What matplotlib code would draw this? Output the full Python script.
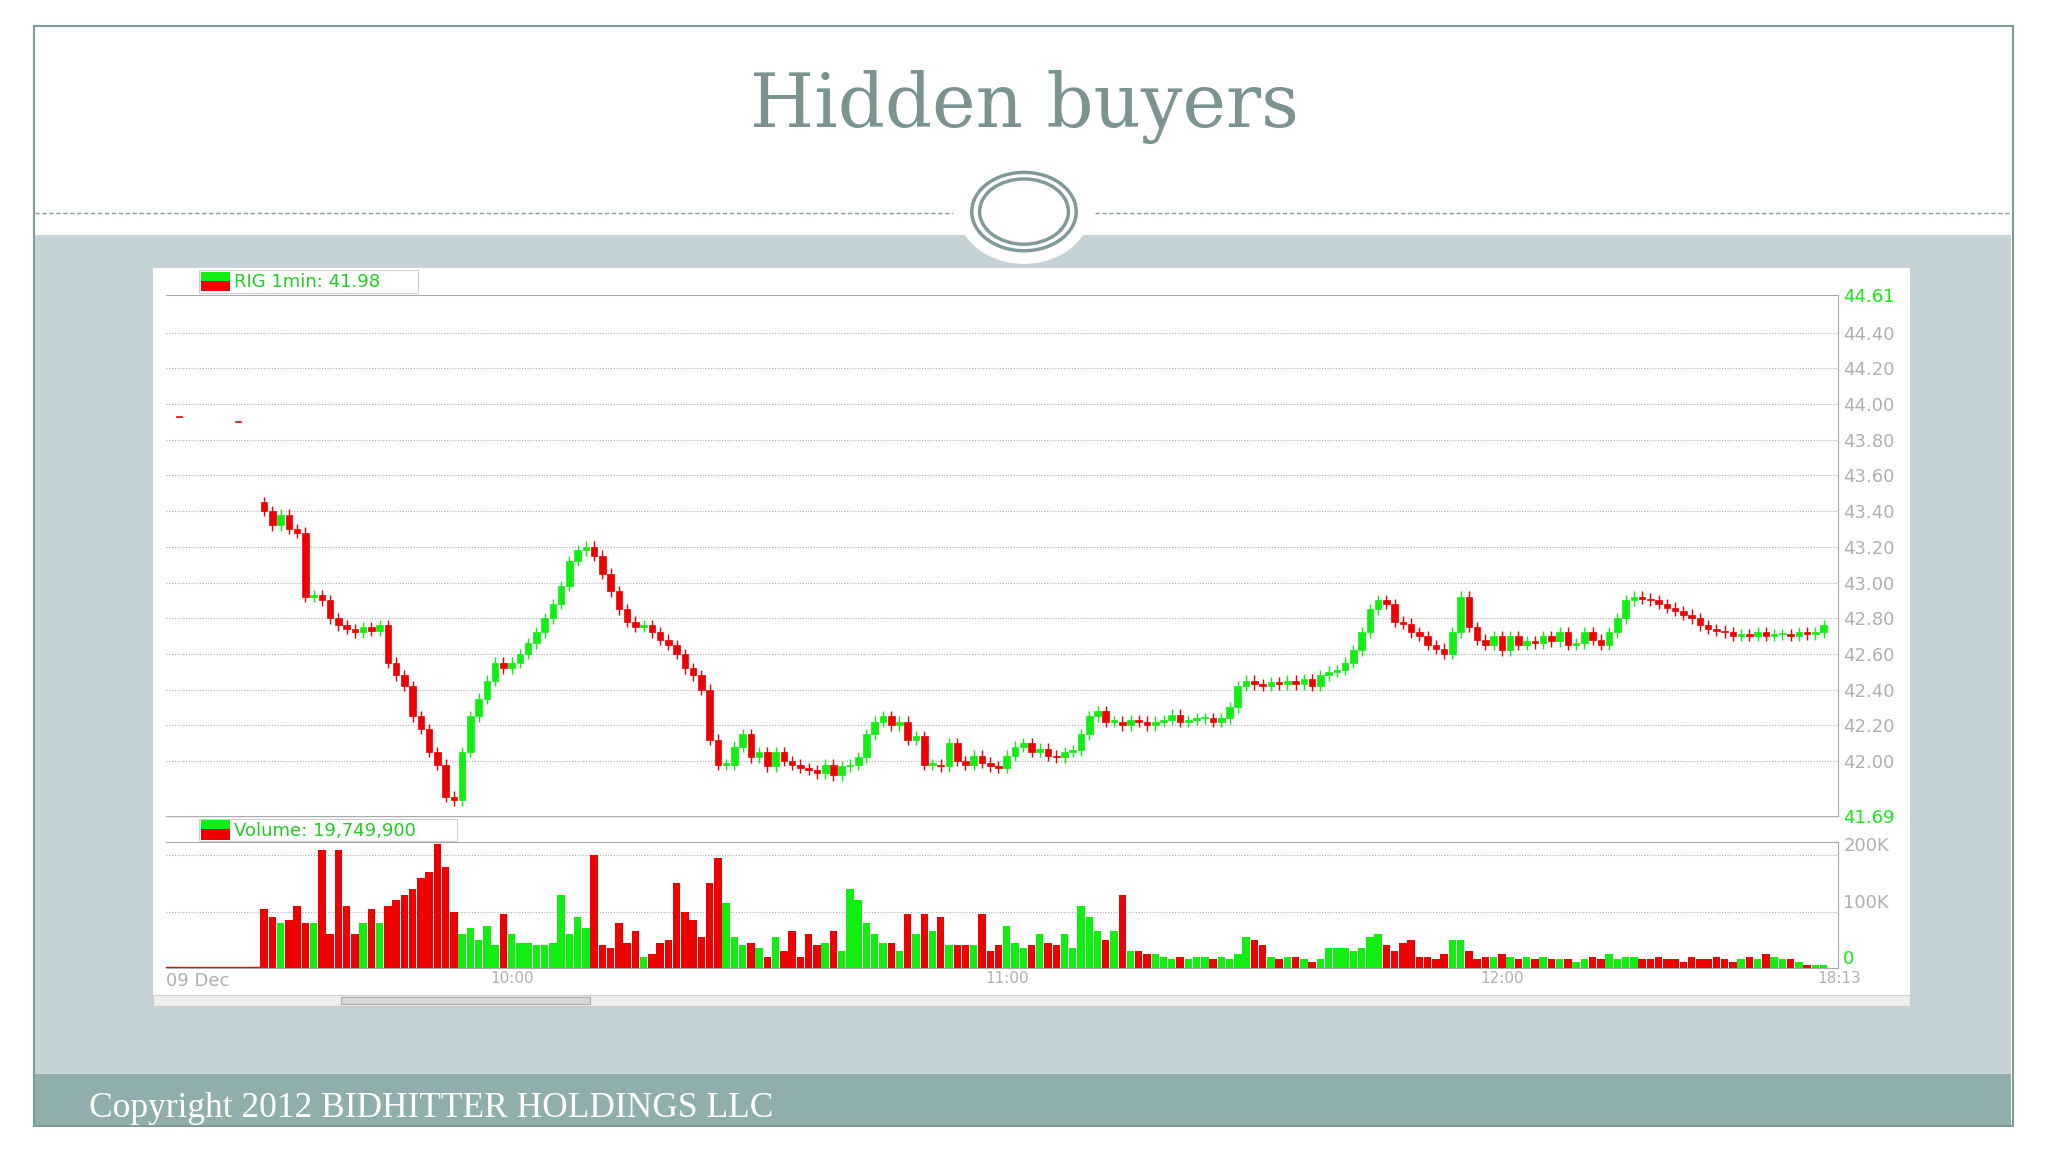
import numpy as np
import matplotlib.pyplot as plt
from matplotlib.patches import Rectangle, Ellipse
from matplotlib.lines import Line2D

# per-minute closes from 09:30
closes = [
    43.40, 43.32, 43.38, 43.30, 43.28, 42.92, 42.93, 42.90, 42.80, 42.76,
    42.74, 42.72, 42.75, 42.73, 42.76, 42.55, 42.48, 42.42, 42.25, 42.18,
    42.05, 41.98, 41.80, 41.78, 42.05, 42.25, 42.35, 42.45, 42.55, 42.52,
    42.55, 42.60, 42.66, 42.72, 42.80, 42.88, 42.98, 43.12, 43.18, 43.20,
    43.15, 43.05, 42.95, 42.85, 42.78, 42.75, 42.76, 42.72, 42.68, 42.65,
    42.60, 42.52, 42.48, 42.40, 42.12, 41.98, 41.98, 42.08, 42.15, 42.02,
    42.05, 41.97, 42.05, 42.00, 41.98, 41.96, 41.95, 41.93, 41.98, 41.92,
    41.97, 41.98, 42.02, 42.15, 42.22, 42.25, 42.20, 42.22, 42.12, 42.14,
    41.98, 41.98, 41.97, 42.10, 42.00, 41.98, 42.03, 41.99, 41.97, 41.96,
    42.03, 42.08, 42.10, 42.05, 42.07, 42.03, 42.02, 42.05, 42.06, 42.15,
    42.25, 42.28, 42.22, 42.22, 42.20, 42.23, 42.22, 42.20, 42.22, 42.23,
    42.26, 42.22, 42.23, 42.24, 42.24, 42.22, 42.24, 42.30, 42.42, 42.45,
    42.43, 42.42, 42.44, 42.43, 42.45, 42.43, 42.46, 42.42, 42.48, 42.50,
    42.51, 42.55, 42.62, 42.72, 42.85, 42.90, 42.88, 42.78, 42.77, 42.72,
    42.70, 42.65, 42.63, 42.60, 42.72, 42.92, 42.75, 42.68, 42.65, 42.70,
    42.62, 42.70, 42.65, 42.67, 42.66, 42.70, 42.67, 42.72, 42.65, 42.66,
    42.72, 42.68, 42.65, 42.72, 42.80, 42.90, 42.92, 42.91, 42.90, 42.88,
    42.86, 42.84, 42.82, 42.80, 42.76, 42.74, 42.73, 42.72, 42.70, 42.71,
    42.70, 42.72, 42.70, 42.71, 42.71, 42.70, 42.72, 42.71, 42.72, 42.76,
]
first_open = 43.45

# volume in thousands
volumes = [
    105, 90, 80, 85, 110, 80, 80, 210, 60, 210,
    110, 60, 80, 105, 80, 110, 120, 130, 140, 160,
    170, 220, 180, 100, 60, 70, 50, 75, 40, 95,
    60, 45, 45, 40, 40, 45, 130, 60, 90, 70,
    200, 40, 35, 80, 45, 65, 20, 25, 45, 50,
    150, 100, 85, 55, 150, 195, 115, 55, 40, 45,
    35, 20, 55, 30, 65, 20, 60, 40, 45, 65,
    30, 140, 120, 80, 60, 45, 45, 30, 95, 60,
    95, 65, 90, 40, 40, 40, 40, 95, 30, 40,
    75, 45, 35, 40, 60, 45, 40, 60, 35, 110,
    90, 65, 50, 65, 130, 30, 30, 25, 25, 20,
    15, 20, 15, 20, 20, 15, 20, 15, 25, 55,
    50, 40, 20, 15, 20, 20, 15, 10, 15, 35,
    35, 35, 30, 35, 55, 60, 40, 30, 45, 50,
    20, 20, 15, 25, 50, 50, 30, 15, 20, 20,
    25, 20, 15, 20, 15, 20, 15, 15, 15, 10,
    15, 20, 15, 25, 15, 20, 20, 15, 15, 20,
    15, 15, 10, 20, 15, 15, 20, 15, 10, 15,
    20, 15, 25, 20, 15, 15, 10, 5, 5, 5,
]

price_ticks = [44.61, 44.40, 44.20, 44.00, 43.80, 43.60, 43.40, 43.20, 43.00,
               42.80, 42.60, 42.40, 42.20, 42.00, 41.69]
time_ticks = [30, 90, 150]
time_labels = ['10:00', '11:00', '12:00']

W, H = 1568.0, 882.0
def fx(x): return x / W
def fy(y): return 1 - y / H
def box(x0, y0, x1, y1): return [fx(x0), fy(y1), (x1 - x0) / W, (y1 - y0) / H]

GREEN = '#11ee11'
RED = '#ee0000'
fig = plt.figure(figsize=(20.48, 11.52), dpi=100)
fig.patch.set_facecolor('white')

def frect(x0, y0, x1, y1, **kw):
    fig.add_artist(Rectangle((fx(x0), fy(y1)), (x1 - x0) / W, (y1 - y0) / H,
                             transform=fig.transFigure, **kw))

# slide background
frect(26, 20, 1541, 862, facecolor='white', edgecolor='#7f9a98', lw=1.5)
frect(27, 180, 1540, 822, facecolor='#c5d2d6', edgecolor='none')
frect(27, 822, 1540, 861, facecolor='#90aeab', edgecolor='none')
fig.add_artist(Line2D([fx(27), fx(730)], [fy(163)] * 2, transform=fig.transFigure,
                      color='#7f9a98', ls=(0, (3, 2)), lw=1))
fig.add_artist(Line2D([fx(838), fx(1540)], [fy(163)] * 2, transform=fig.transFigure,
                      color='#7f9a98', ls=(0, (3, 2)), lw=1))
fig.add_artist(Ellipse((fx(784), fy(163)), 100 / W, 78 / H, transform=fig.transFigure,
                       facecolor='white', edgecolor='none'))
fig.add_artist(Ellipse((fx(784), fy(162)), 80 / W, 60 / H, transform=fig.transFigure,
                       facecolor='white', edgecolor='#7f9a98', lw=2.5))
fig.add_artist(Ellipse((fx(784), fy(162)), 68 / W, 50 / H, transform=fig.transFigure,
                       facecolor='none', edgecolor='#7f9a98', lw=2.5))
fig.text(0.5, fy(82), 'Hidden buyers', ha='center', va='center',
         family='DejaVu Serif', fontsize=53, color='#7b9391')
fig.text(fx(68), fy(849), 'Copyright 2012 BIDHITTER HOLDINGS LLC', ha='left', va='center',
         family='Liberation Serif', fontsize=25.5, color='white')

# chart panel
frect(117, 205, 1462, 770, facecolor='white', edgecolor='none')
frect(117, 762, 1462, 770, facecolor='#eeeeee', edgecolor='#cccccc', lw=0.8)
frect(261, 763, 452, 769, facecolor='#d8d8d8', edgecolor='#aaaaaa', lw=0.8)

n = len(closes)
opens = [first_open] + closes[:-1]
mins = np.arange(n)
xlim = (-11.9, 190.7)

ax = fig.add_axes(box(127, 226, 1407, 625))
ax.set_zorder(5)
ax.set_facecolor('white')
for m, o, c in zip(mins, opens, closes):
    col = GREEN if c >= o else RED
    lo, hi = min(o, c), max(o, c)
    ax.vlines(m, lo - 0.03, hi + 0.03, color=col, lw=1)
    ax.add_patch(Rectangle((m - 0.4, lo), 0.8, max(hi - lo, 0.008), facecolor=col, edgecolor=col, lw=0.5))
ax.plot([-10.5, -9.9], [43.93, 43.93], color=RED, lw=1.2)
ax.plot([-3.4, -2.8], [43.90, 43.90], color=RED, lw=1.2)
ax.set_xlim(*xlim)
ax.set_ylim(41.69, 44.61)
ax.yaxis.tick_right()
ax.set_yticks(price_ticks)
ax.set_yticklabels([f'{t:.2f}' for t in price_ticks], fontsize=13)
for lbl, t in zip(ax.get_yticklabels(), price_ticks):
    lbl.set_color(GREEN if t in (44.61, 41.69) else '#b0b0b0')
ax.tick_params(axis='y', length=0, pad=4)
ax.set_xticks([])
for t in price_ticks[1:-1]:
    ax.axhline(t, color='#aaaaaa', ls=(0, (1, 1.5)), lw=0.8, zorder=0)
for s in ax.spines.values():
    s.set_color('#aaaaaa')
ax.spines['left'].set_visible(False)
ax.spines['bottom'].set_visible(False)

vax = fig.add_axes(box(127, 645, 1407, 741))
vax.set_zorder(5)
vcols = [GREEN if c >= o else RED for o, c in zip(opens, closes)]
vax.bar(mins, np.array(volumes) * 1000, width=0.9, color=vcols)
vax.plot([-11.9, -0.5], [1500, 1500], color=RED, lw=1)
vax.set_xlim(*xlim)
vax.set_ylim(0, 223000)
vax.yaxis.tick_right()
vax.set_yticks([0, 100000, 200000])
vax.set_yticklabels(['0', '100K', '200K'], fontsize=13)
for lbl, c in zip(vax.get_yticklabels(), [GREEN, '#b0b0b0', '#b0b0b0']):
    lbl.set_color(c)
    lbl.set_va('bottom')
vax.tick_params(axis='y', length=0, pad=4)
vax.set_xticks(time_ticks)
vax.set_xticklabels(time_labels, fontsize=11, color='#b0b0b0')
vax.tick_params(axis='x', length=0, pad=2)
for t in [100000, 200000]:
    vax.axhline(t, color='#aaaaaa', ls=(0, (1, 1.5)), lw=0.8, zorder=0)
for s in vax.spines.values():
    s.set_color('#aaaaaa')
vax.spines['left'].set_visible(False)
fig.add_artist(Line2D([fx(127), fx(1407)], [fy(625)] * 2, transform=fig.transFigure, color='#aaaaaa', lw=1))
fig.text(fx(127), fy(751), '09 Dec', fontsize=13, color='#b0b0b0', ha='left', va='center')
fig.text(fx(1408), fy(749), '18:13', fontsize=11, color='#b0b0b0', ha='center', va='center')

# legend tags
for (y0, text, x1) in [(207, 'RIG 1min: 41.98', 320), (627, 'Volume: 19,749,900', 350)]:
    frect(152, y0, x1, y0 + 17, facecolor='white', edgecolor='#cfcfcf', lw=0.8)
    frect(154, y0 + 1, 176, y0 + 8, facecolor=GREEN, edgecolor='none')
    frect(154, y0 + 8, 176, y0 + 16, facecolor=RED, edgecolor='none')
    fig.text(fx(179), fy(y0 + 9), text, fontsize=13, color='#22cc22', ha='left', va='center')

fig.savefig('out.png', dpi=100)
